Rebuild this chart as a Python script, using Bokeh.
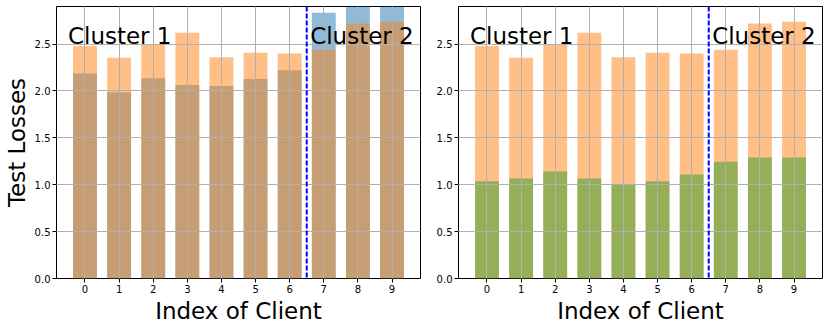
from bokeh.plotting import figure
from bokeh.layouts import row
from bokeh.models import FixedTicker, Range1d, Span, Label, NumeralTickFormatter
from bokeh.embed import file_html
from bokeh.resources import INLINE

clients = list(range(10))
orange_loss = [2.48, 2.353, 2.50, 2.62, 2.36, 2.406, 2.40, 2.44, 2.72, 2.738]
blue_loss = [2.185, 1.986, 2.136, 2.064, 2.053, 2.128, 2.221, 2.834, 3.05, 3.10]
green_loss = [1.037, 1.066, 1.141, 1.066, 1.005, 1.037, 1.109, 1.244, 1.291, 1.291]
y_ticks = [0, 0.5, 1.0, 1.5, 2.0, 2.5]
cluster_names = ["Cluster 1", "Cluster 2"]
cluster_x = [-0.5, 6.6]
cluster_y = [2.5, 2.5]
boundary = 6.5

FONT = "DejaVu Sans"


def make_fig(border_left, ylabel):
    p = figure(frame_width=364, frame_height=272, output_backend="svg", toolbar_location=None,
               x_range=Range1d(-0.835, 9.835), y_range=Range1d(0, 2.9),
               min_border_left=border_left, min_border_right=8,
               min_border_top=6, min_border_bottom=48)
    p.outline_line_color = "black"
    p.outline_line_width = 1
    for ax in (p.xaxis, p.yaxis):
        ax.axis_line_color = None
        ax.major_tick_line_color = "black"
        ax.major_tick_out = 4
        ax.major_tick_in = 0
        ax.minor_tick_line_color = None
        ax.major_label_text_font = FONT
        ax.major_label_text_font_size = "10px"
        ax.major_label_text_color = "black"
        ax.major_label_standoff = 2
        ax.axis_label_text_font = FONT
        ax.axis_label_text_font_size = "23px"
        ax.axis_label_text_font_style = "normal"
        ax.axis_label_text_color = "black"
        ax.axis_label_standoff = 2
    p.xaxis.ticker = FixedTicker(ticks=clients)
    p.yaxis.ticker = FixedTicker(ticks=y_ticks)
    p.yaxis.formatter = NumeralTickFormatter(format="0.0")
    p.xaxis.axis_label = "Index of Client"
    if ylabel:
        p.yaxis.axis_label = ylabel
    for g in (p.xgrid, p.ygrid):
        g.grid_line_color = "#b0b0b0"
        g.grid_line_width = 1
        g.level = "guide"
    return p


left = make_fig(56, "Test Losses")
left.vbar(x=clients, top=blue_loss, width=0.7, bottom=0, fill_color="#1f77b4",
          fill_alpha=0.5, line_color=None)
left.vbar(x=clients, top=orange_loss, width=0.7, bottom=0, fill_color="#ff7f0e",
          fill_alpha=0.5, line_color=None)

right = make_fig(30, None)
right.vbar(x=clients, top=orange_loss, width=0.7, bottom=0, fill_color="#ff7f0e",
           fill_alpha=0.5, line_color=None)
right.vbar(x=clients, top=green_loss, width=0.7, bottom=0, fill_color="#2ca02c",
           fill_alpha=0.5, line_color=None)

for p in (left, right):
    p.add_layout(Span(location=boundary, dimension="height", line_color="blue",
                      line_dash="5 2", line_width=2))
    for name, cx, cy in zip(cluster_names, cluster_x, cluster_y):
        p.add_layout(Label(x=cx, y=cy, y_offset=-5, text=name, text_font=FONT,
                           text_font_size="23px", text_color="black",
                           text_align="left", text_baseline="bottom"))

layout = row(left, right, spacing=0)
open("out.html", "w").write(file_html(layout, INLINE))
